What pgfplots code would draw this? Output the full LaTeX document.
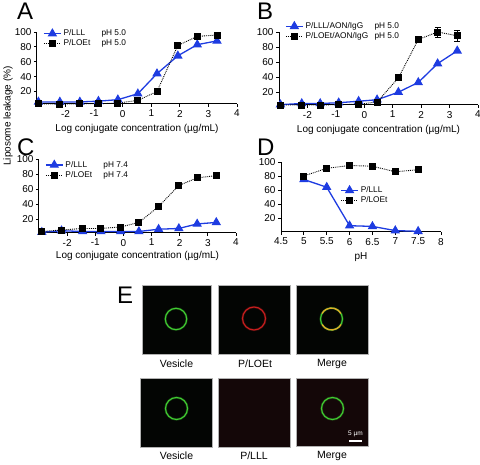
\documentclass[border=0pt]{standalone}
\usepackage{pgfplots}
\pgfplotsset{compat=1.18}
\usepackage{fontspec}
\setmainfont{Liberation Sans}
\definecolor{bl}{RGB}{30,60,225}
\definecolor{gr}{RGB}{65,205,50}
\definecolor{rd}{RGB}{200,30,30}
\definecolor{ye}{RGB}{225,170,40}
\definecolor{dk}{RGB}{3,5,3}
\definecolor{dr}{RGB}{20,7,8}
\pgfplotsset{panel/.style={
  scale only axis, anchor=south west,
  axis x line*=bottom, axis y line*=left,
  ymax=100, ytick={20,40,60,80,100},
  tick align=outside, major tick length=3pt,
  tick style={black,line width=0.8pt}, axis line style={line width=1pt},
  xtick pos=bottom, ytick pos=left,
  tick label style={font=\fontsize{10}{10}\selectfont},
  yticklabel style={xshift=1pt},
  xticklabel style={yshift=0.5pt},
  /pgf/number format/assume math mode=true,
  clip=false,
  xlabel style={font=\fontsize{10}{10}\selectfont,yshift=0pt},
  legend cell align=left,
  legend style={draw=none,fill=none,font=\fontsize{8.3}{9}\selectfont,row sep=-1.5pt,inner sep=0pt,anchor=north west},
},
lll/.style={bl,line width=1.3pt,solid,mark=triangle*,mark size=4.2pt,mark options={solid,fill=bl,draw=bl}},
loe/.style={black,line width=0.9pt,densely dotted,mark=square*,mark size=3pt,mark options={solid,fill=black}},
logx/.style={xmin=-3,xmax=4,xtick={-2,-1,0,1,2,3,4},xticklabels={-2,-1,0,1,2,3,4},
  xlabel={Log conjugate concentration (µg/mL)}},
}
\newcommand{\pane}[5]{% x1,y1,x2,y2,colour
  \fill[#5,draw=black!30,line width=0.6pt] (#1,464-#2) rectangle (#3,464-#4);}
\newcommand{\ring}[4]{% cx,cy,r,colour
  \draw[#4,opacity=.25,line width=2.4pt] (#1,464-#2) circle (#3);
  \draw[#4,line width=1.1pt] (#1,464-#2) circle (#3);}
\begin{document}
\begin{tikzpicture}[x=1pt,y=1pt]
\useasboundingbox (0,0) rectangle (480,464);
\begin{axis}[panel,logx,at={(37pt,360pt)},width=200pt,height=72pt,ymin=3.2,
  legend style={at={(0.03,1.06)}}]
\addplot[lll] coordinates {(-2.95,6)(-2.2,6)(-1.5,6)(-0.85,7)(-0.17,9)(0.53,17)(1.2,44)(1.93,68)(2.61,83)(3.3,88)};
\addplot[loe] coordinates {(-2.95,3.5)(-2.2,3)(-1.5,3.5)(-0.85,3.5)(-0.17,4.5)(0.53,8)(1.2,20)(1.93,82)(2.61,94)(3.3,96)};
\legend{\makebox[38pt][l]{P/LLL}pH 5.0,\makebox[38pt][l]{P/LOEt}pH 5.0}
\end{axis}
\begin{axis}[panel,logx,at={(279pt,359pt)},width=199pt,height=73pt,ymin=3,
  legend style={at={(0.03,1.16)}}]
\addplot[lll] coordinates {(-2.95,3.5)(-2.2,5)(-1.55,5)(-0.9,6)(-0.2,8)(0.45,10)(1.2,20)(1.9,33)(2.58,58)(3.27,75)};
\addplot[loe,error bars/.cd,y dir=both,y explicit,error bar style={solid,line width=0.7pt}] coordinates {(-2.95,3)(-2.2,3)(-1.55,3)(-0.9,3.5)(-0.2,4)(0.45,7)(1.2,39)(1.9,90)(2.58,100)+-(0,7)(3.27,95)+-(0,7)};
\legend{\makebox[69pt][l]{P/LLL/AON/IgG}pH 5.0,\makebox[69pt][l]{P/LOEt/AON/IgG}pH 5.0}
\end{axis}
\begin{axis}[panel,logx,at={(39pt,231pt)},width=197pt,height=74pt,ymin=2,
  xlabel style={yshift=2pt},
  legend style={at={(0.03,1.0)}}]
\addplot[lll] coordinates {(-2.9,3)(-2.2,5)(-1.45,4)(-0.8,4)(-0.1,4)(0.55,4)(1.25,7)(1.97,8)(2.62,14)(3.3,16)};
\addplot[loe] coordinates {(-2.9,4)(-2.2,6)(-1.45,8)(-0.8,8)(-0.1,10)(0.55,16)(1.25,37)(1.97,65)(2.62,75)(3.3,78)};
\legend{\makebox[38pt][l]{P/LLL}pH 7.4,\makebox[38pt][l]{P/LOEt}pH 7.4}
\end{axis}
\begin{axis}[panel,at={(281pt,232pt)},width=160pt,height=70pt,ymin=0,xmin=4.5,xmax=8,
  xtick={4.5,5,5.5,6,6.5,7,7.5,8},xticklabels={4.5,5,5.5,6,6.5,7,7.5,8},xlabel={pH},
  xlabel style={yshift=-1pt},
  legend style={at={(0.37,0.68)}}]
\addplot[lll] coordinates {(5,75)(5.5,64)(6,9)(6.5,8)(7,2)(7.5,1)};
\addplot[loe] coordinates {(5,80)(5.5,91)(6,95)(6.5,94)(7,86)(7.5,89)};
\legend{P/LLL,P/LOEt}
\end{axis}
\foreach \l/\x/\y in {A/17/11,B/257/11,C/17/147,D/257/147,E/117/295}
  \node[font=\fontsize{24}{24}\selectfont,inner sep=0pt,anchor=west] at (\x,464-\y) {\l};
\node[rotate=90,font=\fontsize{10}{10}\selectfont] at (8,464-116) {Liposome leakage (\%)};
\pane{142}{285}{211}{354}{dk}
\pane{218}{285}{290}{354}{dk}
\pane{296}{285}{368}{354}{dk}
\pane{140}{378}{212}{447}{dk}
\pane{218}{378}{290}{447}{dr}
\pane{296}{378}{368}{446}{dr}
\ring{176}{319}{10.7}{gr}
\ring{254}{318.5}{11.5}{rd}
\ring{331.5}{319}{11}{gr}
\draw[ye,line width=1.3pt] (331.5+9.5,464-313.5) arc (30:150:11);
\draw[ye,line width=1.3pt] (331.5-9.5,464-324.5) arc (210:330:11);
\ring{176.5}{408.5}{11}{gr}
\ring{332.5}{408.5}{11}{gr}
\fill[white] (349,464-440) rectangle (362,464-442);
\node[white,font=\fontsize{6.5}{7}\selectfont,inner sep=0pt] at (355.5,464-433.5) {5 µm};
\foreach \t/\x/\y in {{Vesicle}/176.5/364,{P/LOEt}/255/364,{Merge}/332/364,{Vesicle}/176.5/456,{P/LLL}/254/456,{Merge}/332/456}
  \node[font=\fontsize{10.5}{11}\selectfont,inner sep=0pt] at (\x,464-\y) {\t};
\end{tikzpicture}
\end{document}
